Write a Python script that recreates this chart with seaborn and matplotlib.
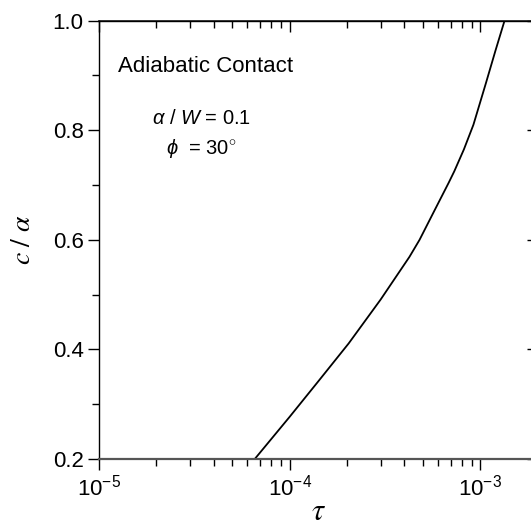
import numpy as np
import pandas as pd
import seaborn as sns
import matplotlib.pyplot as plt
from matplotlib.ticker import FixedLocator, LogLocator, NullFormatter, FuncFormatter, MultipleLocator, NullLocator

# curve
tau = [6.56e-5, 1.0e-4, 1.4e-4, 2.04e-4, 3.0e-4, 4.25e-4, 4.8e-4, 5.7e-4,
       6.82e-4, 7.3e-4, 8.2e-4, 9.2e-4, 1.07e-3, 1.2e-3, 1.34e-3]
c_over_a = [0.200, 0.277, 0.340, 0.411, 0.491, 0.569, 0.600, 0.651,
            0.704, 0.725, 0.765, 0.810, 0.886, 0.945, 1.0]

x_major = [1e-5, 1e-4, 1e-3]
y_major = [0.2, 0.4, 0.6, 0.8, 1.0]

sns.set_theme(style='ticks')
plt.rcParams['font.family'] = ['Liberation Sans', 'DejaVu Sans']
plt.rcParams['text.color'] = 'black'
plt.rcParams['axes.labelcolor'] = 'black'
plt.rcParams['mathtext.fontset'] = 'custom'
plt.rcParams['mathtext.rm'] = 'Liberation Sans'
plt.rcParams['mathtext.it'] = 'Liberation Sans:italic'
plt.rcParams['mathtext.bf'] = 'Liberation Sans:bold'

df = pd.DataFrame({'tau': tau, 'ca': c_over_a})

fig = plt.figure(figsize=(5.31, 5.26), dpi=100)
ax = fig.add_axes([99 / 531, (526 - 459) / 526, (537.7 - 99) / 531, (459 - 20.7) / 526])

sns.lineplot(data=df, x='tau', y='ca', ax=ax, color='black', linewidth=1.3)

ax.set_xscale('log')
ax.set_xlim(1e-5, 2e-3)
ax.set_ylim(0.2, 1.0)

ax.xaxis.set_major_locator(FixedLocator(x_major))
ax.xaxis.set_minor_locator(LogLocator(base=10, subs=np.arange(2, 10)))
ax.xaxis.set_minor_formatter(NullFormatter())
ax.xaxis.set_major_formatter(FuncFormatter(
    lambda v, p: r'$\mathregular{10^{%d}}$' % int(round(np.log10(v)))))
ax.yaxis.set_major_locator(FixedLocator(y_major))
ax.yaxis.set_minor_locator(MultipleLocator(0.1))
ax.yaxis.set_major_formatter(FuncFormatter(lambda v, p: '%.1f' % v))

for s in ax.spines.values():
    s.set_color('black')
    s.set_linewidth(1.0)
ax.spines['bottom'].set_color('#555555')
ax.spines['bottom'].set_linewidth(1.6)

ax.tick_params(axis='both', which='major', direction='out', length=8, width=1,
               labelsize=16, color='black', labelcolor='black', pad=3)
ax.tick_params(axis='both', which='minor', direction='out', length=5, width=1, color='black')

# inward ticks on top and right
top = ax.secondary_xaxis('top')
top.xaxis.set_major_locator(FixedLocator(x_major))
top.xaxis.set_minor_locator(LogLocator(base=10, subs=np.arange(2, 10)))
top.xaxis.set_major_formatter(NullFormatter())
top.xaxis.set_minor_formatter(NullFormatter())
top.tick_params(which='major', direction='in', length=8, width=1, color='black')
top.tick_params(which='minor', direction='in', length=5, width=1, color='black')

right = ax.secondary_yaxis('right')
right.yaxis.set_major_locator(FixedLocator(y_major))
right.yaxis.set_minor_locator(NullLocator())
right.yaxis.set_major_formatter(NullFormatter())
right.tick_params(which='major', direction='in', length=8, width=1, color='black')

ax.set_xlabel(r'$\tau$', fontsize=22, math_fontfamily='stix', labelpad=-2)
ax.set_ylabel(r'$c\ /\ \alpha$', fontsize=20, math_fontfamily='stix', labelpad=12)

ax.text(0.043, 0.895, 'Adiabatic Contact', transform=ax.transAxes,
        fontsize=16, ha='left', va='center')
ax.text(0.233, 0.776, r'$\alpha$ / $W$ = 0.1', transform=ax.transAxes,
        fontsize=14.5, ha='center', va='center')
ax.text(0.233, 0.709, r'$\phi$  = 30$^{\circ}$', transform=ax.transAxes,
        fontsize=14.5, ha='center', va='center')

fig.savefig('out.png', dpi=100)
